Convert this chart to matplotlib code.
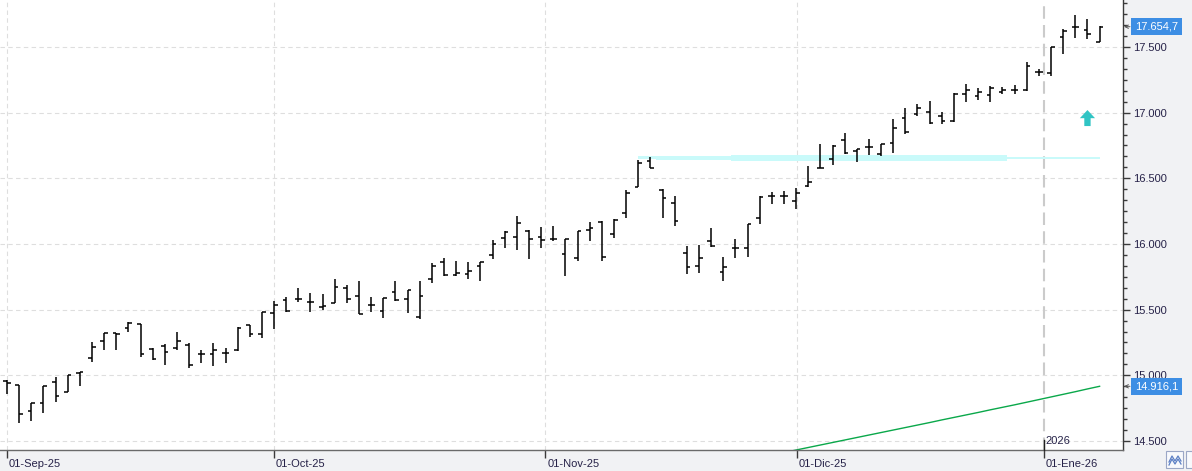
import matplotlib
matplotlib.use('Agg')
import matplotlib.pyplot as plt
import numpy as np
from matplotlib.patches import FancyArrow, Rectangle
from matplotlib.ticker import FixedLocator, FuncFormatter
import matplotlib.transforms as mtransforms

plt.rcParams['font.family'] = ['Liberation Sans', 'DejaVu Sans']

# ---- daily OHLC bars, one per trading session (01-Sep-25 .. early Jan-26) ----
opens = [14958, 14926, 14728, 14786, 14951, 14875, 15019, 15129, 15263, 15320,
         15358, 15390, 15200, 15225, 15205, 15233, 15160, 15164, 15167, 15192,
         15383, 15312, 15472, 15573, 15581, 15560, 15518, 15548, 15662, 15601,
         15533, 15489, 15632, 15578, 15446, 15735, 15860, 15761, 15771, 15830,
         15914, 16043, 16051, 16101, 16051, 16035, 15921, 15895, 16106, 16169,
         16076, 16236, 16436, 16634, 16411, 16312, 15929, 15832, 16022, 15784,
         15967, 15971, 16195, 16365, 16365, 16329, 16441, 16576, 16645, 16792,
         16710, 16736, 16685, 16767, 16957, 16990, 17003, 16974, 16939, 17142,
         17129, 17134, 17161, 17170, 17173, 17310, 17304, 17574, 17655, 17629,
         17540]
highs = [14964, 14926, 14786, 14918, 14984, 15004, 15025, 15251, 15324, 15320,
         15408, 15390, 15210, 15238, 15329, 15243, 15192, 15248, 15205, 15365,
         15385, 15484, 15563, 15594, 15662, 15624, 15617, 15731, 15687, 15718,
         15598, 15591, 15718, 15649, 15718, 15853, 15891, 15872, 15860, 15865,
         16030, 16101, 16215, 16106, 16127, 16137, 16035, 16099, 16169, 16175,
         16190, 16411, 16639, 16660, 16416, 16365, 15984, 15992, 16119, 15903,
         16038, 16152, 16365, 16398, 16400, 16424, 16594, 16760, 16752, 16847,
         16725, 16797, 16761, 16949, 17033, 17066, 17091, 17003, 17147, 17216,
         17185, 17205, 17195, 17211, 17386, 17336, 17502, 17637, 17744, 17713,
         17662]
lows = [14857, 14639, 14654, 14715, 14799, 14872, 14920, 15103, 15192, 15192,
        15332, 15141, 15116, 15078, 15192, 15053, 15091, 15073, 15096, 15187,
        15294, 15281, 15352, 15484, 15560, 15484, 15497, 15548, 15548, 15467,
        15484, 15434, 15568, 15476, 15426, 15700, 15756, 15756, 15731, 15720,
        15883, 15968, 15954, 15885, 15971, 16025, 15756, 15872, 16025, 15872,
        16043, 16200, 16431, 16576, 16201, 16137, 15769, 15777, 15979, 15720,
        15891, 15903, 16150, 16302, 16302, 16264, 16434, 16576, 16599, 16683,
        16622, 16677, 16672, 16695, 16835, 16974, 16911, 16911, 16927, 17079,
        17096, 17079, 17142, 17140, 17167, 17283, 17279, 17444, 17566, 17559,
        17540]
closes = [14939, 14703, 14786, 14918, 14844, 15004, 15025, 15213, 15322, 15312,
          15396, 15160, 15122, 15175, 15259, 15076, 15160, 15190, 15167, 15358,
          15312, 15479, 15535, 15492, 15581, 15558, 15525, 15674, 15578, 15469,
          15537, 15588, 15573, 15647, 15601, 15832, 15761, 15777, 15794, 15863,
          15998, 16091, 16156, 16035, 16028, 16035, 16035, 16099, 16119, 15898,
          16182, 16386, 16614, 16576, 16348, 16175, 15827, 15895, 15984, 15822,
          15967, 16152, 16360, 16365, 16365, 16390, 16472, 16582, 16748, 16690,
          16721, 16736, 16761, 16881, 16855, 17038, 16919, 16939, 17142, 17173,
          17155, 17185, 17173, 17170, 17353, 17310, 17498, 17624, 17655, 17599,
          17654.7]

# long moving average (only the tail is inside the visible range)
ma_start = 64
ma_values = [14412, 14431, 14450, 14469, 14488, 14507, 14526, 14545, 14564,
             14583, 14602, 14621, 14640, 14660, 14679, 14698, 14717, 14737,
             14756, 14775, 14795, 14815, 14835, 14855, 14875, 14896, 14916.1]

# support band drawn at 16.656 (segments: start bar, end bar, half thickness)
band_level = 16656
band_start = [52.0, 53.5, 59.6, 82.4]
band_end = [53.5, 59.6, 82.4, 90.0]
band_half = [11, 13, 21, 10]

# buy signal arrow
signal_bar = 89
signal_base = 16898
signal_tip = 17020

# axis labels
month_pos = [0, 22, 44.35, 65.05]
month_labels = ['01-Sep-25', '01-Oct-25', '01-Nov-25', '01-Dic-25']
year_pos = 85.4
year_month_label = '01-Ene-26'
year_label = '2026'
last_price = closes[-1]
ma_last = ma_values[-1]

x = np.arange(len(closes))

# ---- figure ----
W, H = 1192, 471
fig = plt.figure(figsize=(W / 100, H / 100), dpi=100, facecolor='#f1f2f4')
ax = fig.add_axes([0, 21 / H, 1123 / W, 450 / H])
ax.set_facecolor('white')

px_bar = 12.14
ax.set_xlim(-7 / px_bar, (1123 - 7) / px_bar)
ax.set_ylim(14431, 17858)

# grid
for v in [14500, 15000, 15500, 16000, 16500, 17000, 17500]:
    ax.axhline(v, color='#dedede', lw=0.8, dashes=(4, 3), zorder=0)
for p in month_pos:
    ax.axvline(p, color='#dedede', lw=0.8, dashes=(4, 3), zorder=0)
ax.axvline(year_pos, color='#cbcbcb', lw=1.5, dashes=(6, 3), zorder=0)

# support band
for s, e, h in zip(band_start, band_end, band_half):
    ax.fill_between([s, e], band_level - h, band_level + h, color='#c9fafa', lw=0, zorder=1)

# moving average
ax.plot(np.arange(ma_start, ma_start + len(ma_values)), ma_values, color='#0aa84a', lw=1.0, zorder=2)

# OHLC bars
tk = 0.3
ax.vlines(x, lows, highs, color='black', lw=1.1, zorder=3)
ax.hlines(opens, x - tk, x, color='black', lw=1.1, zorder=3)
ax.hlines(closes, x, x + tk, color='black', lw=1.1, zorder=3)

# signal arrow
arr = FancyArrow(signal_bar, signal_base, 0, signal_tip - signal_base, width=0.52,
                 head_width=1.25, head_length=62, length_includes_head=True,
                 color='#30c4c4', lw=0, zorder=4)
ax.add_patch(arr)

# spines
for s in ['top', 'left']:
    ax.spines[s].set_visible(False)
ax.spines['right'].set_color('#3a3a3a')
ax.spines['bottom'].set_color('#6a6a6a')
ax.spines['right'].set_linewidth(1.0)
ax.spines['bottom'].set_linewidth(1.0)

txt_col = '#262248'

# y axis on the right
ax.yaxis.tick_right()
ax.yaxis.set_major_locator(FixedLocator([14500, 15000, 15500, 16000, 16500, 17000, 17500]))
ax.yaxis.set_minor_locator(FixedLocator(np.arange(14500 - 500, 18000, 500 / 6)))
ax.yaxis.set_major_formatter(FuncFormatter(lambda v, p: f'{int(v):,}'.replace(',', '.')))
ax.tick_params(axis='y', which='major', length=5, width=1, color='#3a3a3a',
               pad=2.5, labelsize=8, labelcolor=txt_col)
ax.tick_params(axis='y', which='minor', length=3, width=1, color='#3a3a3a')

# x axis
ax.set_xticks(month_pos + [year_pos])
ax.set_xticklabels(month_labels + [year_month_label])
ax.tick_params(axis='x', length=6, width=1, color='#3a3a3a', pad=0.5,
               labelsize=8, labelcolor=txt_col)
offset = mtransforms.ScaledTranslation(2 / 100, 0, fig.dpi_scale_trans)
for lbl in ax.get_xticklabels():
    lbl.set_horizontalalignment('left')
    lbl.set_transform(lbl.get_transform() + offset)

# year separator mark above axis
trans = mtransforms.blended_transform_factory(ax.transData, ax.transAxes)
ax.plot([year_pos, year_pos], [0, 10 / 450], color='#202020', lw=1.0, transform=trans,
        clip_on=False, zorder=5)
ax.text(year_pos, 9 / 450, year_label, transform=trans + offset, ha='left', va='center',
        fontsize=8, color=txt_col)

# last value labels on the price scale
for val, txt in [(last_price, '17.654,7'), (ma_last, '14.916,1')]:
    ytr = mtransforms.blended_transform_factory(ax.transAxes, ax.transData)
    ax.text(1 + 12 / 1123, val, txt, transform=ytr, ha='left', va='center',
            fontsize=8, color='white', clip_on=False,
            bbox=dict(boxstyle='square,pad=0.32', fc='#3d8ee4', ec='none'))
    ax.annotate('', xy=(1 + 1 / 1123, val), xytext=(1 + 7 / 1123, val), xycoords=ytr,
                arrowprops=dict(arrowstyle='->', color='#555555', lw=0.7,
                                shrinkA=0, shrinkB=0, mutation_scale=6))

# small toolbar button in the corner
fig.patches.append(Rectangle((1166 / W, 3 / H), 17 / W, 17 / H, transform=fig.transFigure,
                             fc='#f8f9fc', ec='#9ba7c6', lw=0.8))
fig.patches.append(Rectangle((1186 / W, 3 / H), 17 / W, 17 / H, transform=fig.transFigure,
                             fc='#f8f9fc', ec='#9ba7c6', lw=0.8))
zx = np.array([1169, 1172, 1175, 1178, 1181]) / W
fig.lines.append(plt.Line2D(zx, np.array([9, 15, 10, 15, 10]) / H, transform=fig.transFigure,
                            color='#5b7fc4', lw=0.9))
fig.lines.append(plt.Line2D(zx, np.array([6, 12, 7, 12, 7]) / H, transform=fig.transFigure,
                            color='#5b7fc4', lw=0.9))

fig.savefig('out.png', dpi=100, facecolor=fig.get_facecolor())
